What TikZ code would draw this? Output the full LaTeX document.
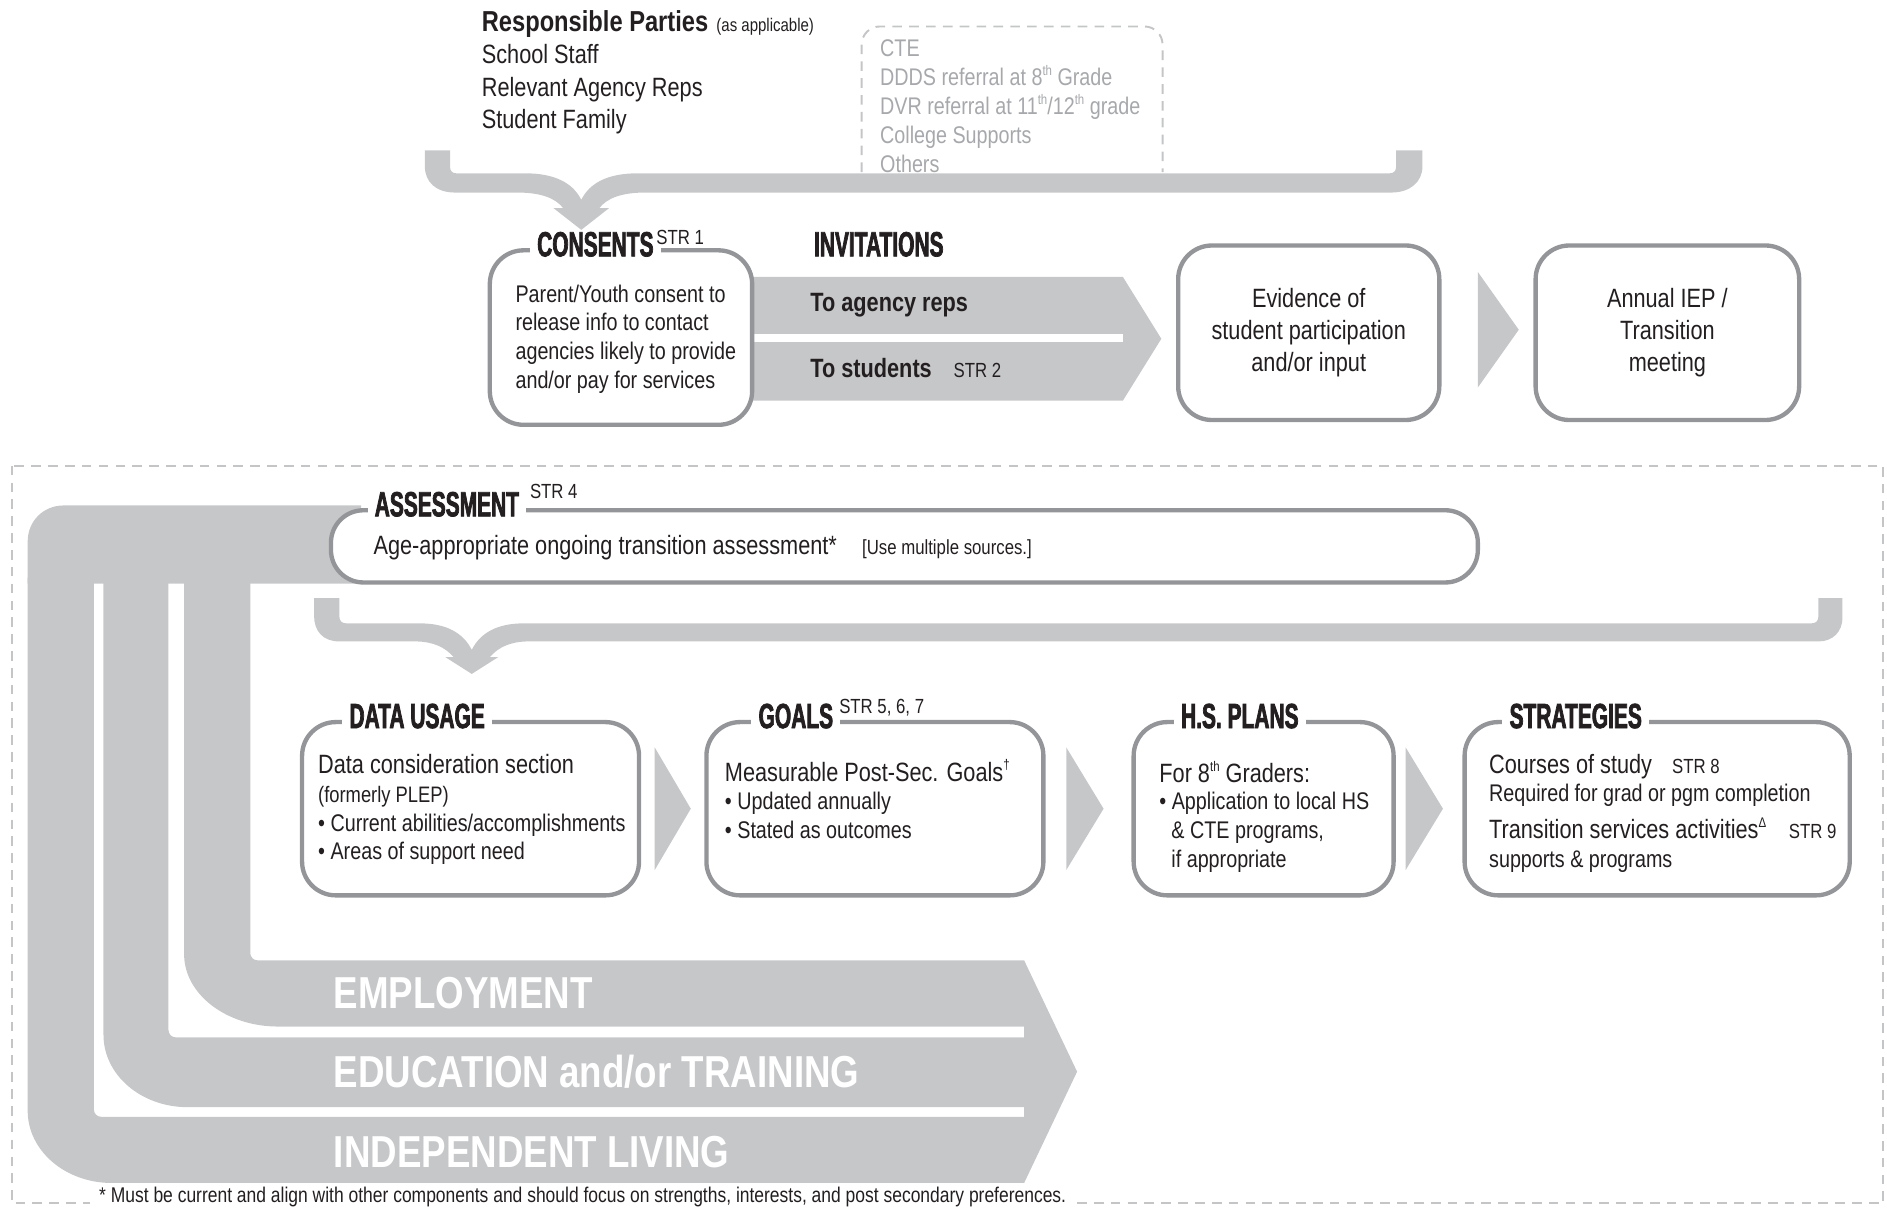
\documentclass[tikz,border=0pt]{standalone}
\usepackage{fontspec}
\setmainfont{Liberation Sans}[FakeStretch=0.82]
\newfontfamily\headfont{Liberation Sans}[FakeStretch=0.6,FakeBold=2]
\definecolor{cBand}{HTML}{C6C7C9}
\definecolor{cLine}{HTML}{939598}
\definecolor{cInk}{HTML}{231F20}
\definecolor{cGray}{HTML}{A6A8AB}
\definecolor{cDash}{HTML}{C4C5C7}
\newcommand\sps[1]{\raisebox{0.42em}{\fontsize{5.8pt}{6pt}\selectfont #1}}
\begin{document}
\begin{tikzpicture}[x=0.5pt,y=-0.5pt,
  boxn/.style={draw=cLine, line width=1.8pt, fill=white, rounded corners=14pt, inner sep=0pt},
  hd/.style={font=\headfont\bfseries\fontsize{14.5pt}{16pt}\selectfont, text=cInk, fill=white, inner xsep=3pt, inner ysep=1pt, anchor=base west},
  tx/.style={text=cInk, inner sep=0pt, anchor=base west},
  tL/.style={tx, font=\fontsize{11pt}{13pt}\selectfont},
  tM/.style={tx, font=\fontsize{10pt}{12pt}\selectfont},
  tS/.style={tx, font=\fontsize{9.3pt}{11pt}\selectfont},
  tStr/.style={tx, font=\fontsize{8.5pt}{10pt}\selectfont},
  tBL/.style={tx, font=\bfseries\fontsize{11pt}{13pt}\selectfont},
  tRP/.style={tx, font=\bfseries\fontsize{12pt}{14pt}\selectfont},
  tAs/.style={tx, font=\fontsize{7.6pt}{9pt}\selectfont},
  tG/.style={tx, text=cGray, font=\fontsize{10pt}{12pt}\selectfont},
  tBand/.style={tx, text=white, font=\bfseries\fontsize{18.6pt}{20pt}\selectfont},
  tFoot/.style={tx, font=\fontsize{8.85pt}{10pt}\selectfont, fill=white, inner xsep=4pt, inner ysep=0.5pt},
  dashln/.style={draw=cDash, line width=0.8pt, dash pattern=on 4pt off 3pt},
]
\useasboundingbox (0,0) rectangle (1568,1005);

% ---------- top: responsible parties ----------
\node[tRP] (rp) at (400,26.5) {Responsible Parties};
\node[tAs] (asap) at ([xshift=3pt]rp.base east) {(as applicable)};
\node[tL] (ss) at (400,53) {School Staff};
\node[tL] (ra) at (400,80) {Relevant Agency Reps};
\node[tL] (sf) at (400,107) {Student Family};

\draw[dashln, rounded corners=7.5pt] (716,143) -- (716,22) -- (966,22) -- (966,143);
\node[tG] (g1) at (731,47) {CTE};
\node[tG] (g2) at (731,71) {DDDS referral at 8\sps{th} Grade};
\node[tG] (g3) at (731,95) {DVR referral at 11\sps{th}/12\sps{th} grade};
\node[tG] (g4) at (731,119) {College Supports};
\node[tG] (g5) at (731,143) {Others};

% top brace
\fill[cBand] (353,125) -- (353,138) .. controls (353,151) and (362,160) .. (378,160)
  -- (430,160) .. controls (450,160) and (462,165) .. (468,173)
  -- (460,173) -- (483,191) -- (506,173) -- (498,173)
  .. controls (504,165) and (516,160) .. (536,160)
  -- (1156,160) .. controls (1172,160) and (1182,151) .. (1182,138) -- (1182,125) -- (1160,125)
  -- (1160,139) .. controls (1160,142) and (1158,144) .. (1155,144)
  -- (530,144) .. controls (505,144) and (490,152) .. (483,166)
  .. controls (476,152) and (461,144) .. (436,144)
  -- (379,144) .. controls (376,144) and (374,142) .. (374,139) -- (374,125) -- cycle;

% invitations band
\fill[cBand] (615,230) -- (933,230) -- (965,281.5) -- (933,333) -- (615,333) -- cycle;
\fill[white] (615,277.5) rectangle (933,284);

% consents
\node[boxn, minimum width=109pt, minimum height=72.5pt] (cons) at (516,280.5) {};
\node[hd] (consh) at (440,213) {CONSENTS};
\node[tStr] (str1) at (545,203) {STR 1};
\node[tM] (c1) at (428,251) {Parent/Youth consent to};
\node[tM] (c2) at (428,275) {release info to contact};
\node[tM] (c3) at (428,299) {agencies likely to provide};
\node[tM] (c4) at (428,323) {and/or pay for services};

\node[hd, fill=none] (invh) at (670,213) {INVITATIONS};
\node[tBL] (ta) at (673,259) {To agency reps};
\node[tBL] (ts) at (673,314) {To students};
\node[tStr] (str2) at (792,314) {STR 2};

% evidence & annual
\node[boxn, minimum width=108.5pt, minimum height=72.5pt, align=center, text=cInk,
      font=\fontsize{11pt}{13.3pt}\selectfont] (ev) at (1087.5,276.5) {Evidence of\\student participation\\and/or input};
\fill[cBand] (1228,226) -- (1262,274) -- (1228,322) -- cycle;
\node[boxn, minimum width=109.5pt, minimum height=72.5pt, align=center, text=cInk,
      font=\fontsize{11pt}{13.3pt}\selectfont] (ann) at (1385.5,276.5) {Annual IEP /\\Transition\\meeting};

% ---------- lower dashed frame ----------
\draw[dashln] (10,387) rectangle (1565,1000);

% L bands
\fill[cBand] (23,485) -- (23,450) .. controls (23,433) and (36,420) .. (53,420) -- (300,420) -- (300,485) -- cycle;
\fill[cBand] (153,480) -- (153,793) .. controls (153,826) and (188,853) .. (231,853) -- (851,853) -- (851,798) -- (214,798) .. controls (210.7,798) and (208,795.3) .. (208,792) -- (208,480) -- cycle;
\fill[cBand] (86,480) -- (86,860) .. controls (86,893) and (117,920) .. (156,920) -- (851,920) -- (851,862) -- (146,862) .. controls (142.7,862) and (140,859.3) .. (140,856) -- (140,480) -- cycle;
\fill[cBand] (23,480) -- (23,923) .. controls (23,956) and (54,983) .. (93,983) -- (851,983) -- (851,928) -- (84,928) .. controls (80.7,928) and (78,925.3) .. (78,922) -- (78,480) -- cycle;
\fill[cBand] (851,798) -- (895,890.5) -- (851,983) -- cycle;
\node[tBand] (emp) at (277,838) {EMPLOYMENT};
\node[tBand] (edu) at (277,904) {EDUCATION and/or TRAINING};
\node[tBand] (ind) at (277,970) {INDEPENDENT LIVING};

% assessment
\node[boxn, rounded corners=13.5pt, minimum width=476.5pt, minimum height=30pt] (ass) at (751.5,454) {};
\node[hd] (assh) at (305,429) {ASSESSMENT};
\node[tStr] (str4) at (440,414) {STR 4};
\node[tL] (a1) at (310,461) {Age-appropriate ongoing transition assessment*};
\node[tStr] (a2) at (716,461) {[Use multiple sources.]};

% lower brace
\fill[cBand] (261,497) -- (261,512) .. controls (261,524) and (268,533) .. (282,533)
  -- (345,533) .. controls (360,533) and (370,538) .. (377,546)
  -- (370,546) -- (392,560) -- (414,546) -- (407,546)
  .. controls (414,538) and (424,533) .. (439,533)
  -- (1511,533) .. controls (1523,533) and (1531,525) .. (1531,513) -- (1531,497) -- (1511,497)
  -- (1511,512) .. controls (1511,516) and (1509,518) .. (1505,518)
  -- (435,518) .. controls (413,518) and (399,526) .. (392,540)
  .. controls (385,526) and (371,518) .. (349,518)
  -- (288,518) .. controls (284,518) and (282,516) .. (282,512) -- (282,497) -- cycle;

% lower boxes
\node[boxn, minimum width=140pt, minimum height=72pt] (data) at (391,672) {};
\node[hd] (datah) at (284,605) {DATA USAGE};
\node[tL] (d1) at (264,643) {Data consideration section};
\node[tS] (d2) at (264,667) {(formerly PLEP)};
\node[tM] (d3) at (264,691) {\textbullet\ Current abilities/accomplishments};
\node[tM] (d4) at (264,714) {\textbullet\ Areas of support need};

\fill[cBand] (544,621) -- (574,672) -- (544,723) -- cycle;

\node[boxn, minimum width=140pt, minimum height=72pt] (goals) at (727,672) {};
\node[hd] (goalsh) at (624,605) {GOALS};
\node[tStr] (str5) at (697,593) {STR 5, 6, 7};
\node[tL] (o1) at (602,649) {Measurable Post-Sec. Goals\sps{†}};
\node[tM] (o2) at (602,673) {\textbullet\ Updated annually};
\node[tM] (o3) at (602,697) {\textbullet\ Stated as outcomes};

\fill[cBand] (886,621) -- (917,672) -- (886,723) -- cycle;

\node[boxn, minimum width=108pt, minimum height=72pt] (hs) at (1050,672) {};
\node[hd] (hsh) at (975,605) {H.S. PLANS};
\node[tL] (h1) at (963,650) {For 8\sps{th} Graders:};
\node[tM] (h2) at (963,673) {\textbullet\ Application to local HS};
\node[tM] (h3) at (973,697) {\& CTE programs,};
\node[tM] (h4) at (973,721) {if appropriate};

\fill[cBand] (1168,621) -- (1199,672) -- (1168,723) -- cycle;

\node[boxn, minimum width=160pt, minimum height=72pt] (strat) at (1377,672) {};
\node[hd] (strath) at (1248,605) {STRATEGIES};
\node[tL] (s1) at (1237,643) {Courses of study};
\node[tStr] (str8) at (1389,643) {STR 8};
\node[tM] (s2) at (1237,666) {Required for grad or pgm completion};
\node[tL] (s3) at (1237,697) {Transition services activities\sps{Δ}};
\node[tStr] (str9) at (1486,697) {STR 9};
\node[tM] (s4) at (1237,721) {supports \& programs};

% footnote
\node[tFoot] (fn) at (74,999.5) {* Must be current and align with other components and should focus on strengths, interests, and post secondary preferences.};
\end{tikzpicture}
\end{document}
